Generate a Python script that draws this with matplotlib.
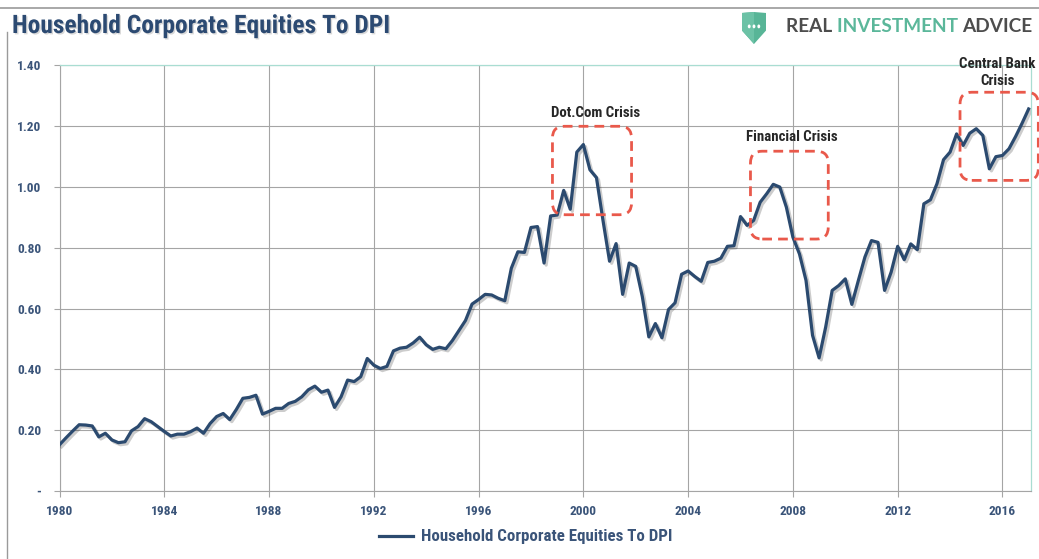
import numpy as np
import matplotlib.pyplot as plt
import matplotlib.patheffects as pe
from matplotlib import font_manager
from matplotlib.patches import FancyBboxPatch, Polygon, Circle
from matplotlib.lines import Line2D

# Datos trimestrales (1980 T1 - 2017 T1)
inicio = 1980
valores = [
    0.152, 0.175, 0.197, 0.218, 0.217, 0.214, 0.178, 0.190,   # 1980-81
    0.168, 0.159, 0.162, 0.198, 0.212, 0.238, 0.228, 0.212,   # 1982-83
    0.196, 0.181, 0.187, 0.187, 0.195, 0.207, 0.190, 0.222,   # 1984-85
    0.245, 0.255, 0.235, 0.268, 0.305, 0.308, 0.315, 0.253,   # 1986-87
    0.262, 0.272, 0.272, 0.288, 0.295, 0.310, 0.333, 0.345,   # 1988-89
    0.325, 0.332, 0.275, 0.310, 0.365, 0.360, 0.376, 0.436,   # 1990-91
    0.414, 0.403, 0.410, 0.461, 0.470, 0.473, 0.487, 0.506,   # 1992-93
    0.481, 0.466, 0.473, 0.468, 0.495, 0.528, 0.561, 0.615,   # 1994-95
    0.630, 0.647, 0.645, 0.634, 0.626, 0.733, 0.787, 0.785,   # 1996-97
    0.867, 0.870, 0.750, 0.905, 0.908, 0.989, 0.927, 1.115,   # 1998-99
    1.140, 1.057, 1.031, 0.890, 0.756, 0.814, 0.647, 0.750,   # 2000-01
    0.739, 0.640, 0.507, 0.551, 0.504, 0.597, 0.619, 0.713,   # 2002-03
    0.724, 0.706, 0.690, 0.752, 0.756, 0.766, 0.805, 0.807,   # 2004-05
    0.903, 0.874, 0.890, 0.950, 0.978, 1.009, 1.000, 0.934,   # 2006-07
    0.835, 0.780, 0.693, 0.512, 0.438, 0.539, 0.660, 0.676,   # 2008-09
    0.698, 0.614, 0.693, 0.770, 0.824, 0.818, 0.660, 0.720,   # 2010-11
    0.805, 0.761, 0.813, 0.794, 0.945, 0.958, 1.011, 1.090,   # 2012-13
    1.115, 1.175, 1.137, 1.177, 1.192, 1.170, 1.060, 1.100,   # 2014-15
    1.104, 1.126, 1.166, 1.210, 1.257,                        # 2016-17
]
anios = inicio + np.arange(len(valores)) * 0.25

ticks_x = list(range(1980, 2017, 4))
ticks_y = [0, 0.2, 0.4, 0.6, 0.8, 1.0, 1.2, 1.4]
etiquetas_y = ['-', '0.20', '0.40', '0.60', '0.80', '1.00', '1.20', '1.40']

# Recuadros de las crisis: (x0, x1, y0, y1) y su texto
crisis_texto = ['Dot.Com Crisis', 'Financial Crisis', 'Central Bank\nCrisis']
crisis_tx = [2000.48, 2007.96, 2015.81]
crisis_ty = [1.245, 1.165, 1.377]
caja_x0 = [1998.82, 2006.38, 2014.38]
caja_x1 = [2001.84, 2009.35, 2017.37]
caja_y0 = [0.909, 0.829, 1.022]
caja_y1 = [1.200, 1.118, 1.312]

azul = '#2b4a6f'
texto_azul = '#3a5479'
gris = '#a5a5a5'
verde = '#a9ddd2'
rojo = '#e9594b'

# fuente estrecha parecida a Calibri, la primera que exista
instaladas = {f.name for f in font_manager.fontManager.ttflist}
candidatas = ['Liberation Sans Narrow', 'Roboto Condensed', 'Open Sans Condensed',
              'Noto Sans Condensed', 'Roboto', 'Lato', 'DejaVu Sans']
fuente = [c for c in candidatas if c in instaladas][0]
narrow = [fuente, 'DejaVu Sans']

fig = plt.figure(figsize=(10.39, 5.59), dpi=100)
fig.canvas.draw()
rend = fig.canvas.get_renderer()


def tamano_para(texto, ancho_px, peso='bold', familia=narrow):
    t = fig.text(0, 0, texto, fontsize=10, fontweight=peso, family=familia)
    w = t.get_window_extent(renderer=rend).width
    t.remove()
    return 10 * ancho_px / w


fs_ticks = min(tamano_para('1980', 27), 10)
fs_crisis = tamano_para('Dot.Com Crisis', 90)
fs_leyenda = tamano_para('Household Corporate Equities To DPI', 250)
fs_titulo = tamano_para('Household Corporate Equities To DPI', 378)

ax = fig.add_axes([59.5 / 1039, 1 - 491 / 559, (1031 - 59.5) / 1039, (491 - 65.5) / 559])

ax.plot(anios, valores, color=azul, linewidth=2.3, solid_joinstyle='round', zorder=4,
        label='Household Corporate Equities To DPI',
        path_effects=[pe.SimpleLineShadow(offset=(1.5, -1.5), shadow_color='k', alpha=0.2),
                      pe.Normal()])

ax.set_xlim(1980, 2017.09)
ax.set_ylim(0, 1.4)
ax.set_xticks(ticks_x)
ax.set_xticklabels([str(t) for t in ticks_x])
ax.set_yticks(ticks_y)
ax.set_yticklabels(etiquetas_y)
for lab in ax.get_xticklabels() + ax.get_yticklabels():
    lab.set_family(narrow)
    lab.set_fontweight('bold')
    lab.set_fontsize(fs_ticks)
    lab.set_color(texto_azul)
ax.tick_params(axis='both', length=4, width=0.8, color=gris)
ax.tick_params(axis='y', pad=9)
ax.tick_params(axis='x', pad=6)
ax.grid(True, color=gris, linewidth=0.8)
ax.set_axisbelow(True)
for lado in ['left', 'bottom']:
    ax.spines[lado].set_color(gris)
    ax.spines[lado].set_linewidth(0.8)
for lado in ['top', 'right']:
    ax.spines[lado].set_color(verde)
    ax.spines[lado].set_linewidth(0.9)

# Recuadros discontinuos redondeados
aspecto = 303.6 / 26.19
for i in range(len(crisis_texto)):
    caja = FancyBboxPatch((caja_x0[i], caja_y0[i]), caja_x1[i] - caja_x0[i], caja_y1[i] - caja_y0[i],
                          boxstyle='round,pad=0,rounding_size=0.45',
                          mutation_aspect=1 / aspecto, fill=False, edgecolor=rojo,
                          linewidth=2.0, linestyle=(0, (3.5, 2.2)), clip_on=False, zorder=5)
    ax.add_patch(caja)
    ax.text(crisis_tx[i], crisis_ty[i], crisis_texto[i], ha='center', va='center',
            fontsize=fs_crisis, fontweight='bold', family=narrow, color='#262626',
            linespacing=1.25, clip_on=False, zorder=6)

leg = fig.legend(loc='center', bbox_to_anchor=(526 / 1039, 1 - 537 / 559), frameon=False,
                 handlelength=2.0, handletextpad=0.5,
                 prop={'family': narrow, 'weight': 'bold', 'size': fs_leyenda})
for t in leg.get_texts():
    t.set_color(texto_azul)
for h in leg.legend_handles:
    h.set_path_effects([pe.Normal()])

# Titulo
fig.text(12 / 1039, 1 - 26 / 559, 'Household Corporate Equities To DPI', ha='left', va='center',
         fontsize=fs_titulo, fontweight='bold', family=narrow, color='#2c4a72',
         path_effects=[pe.withSimplePatchShadow(offset=(1, -1), shadow_rgbFace='gray', alpha=0.3)])

# Marco exterior de la captura
fig.add_artist(Line2D([0, 1], [1 - 8 / 559, 1 - 8 / 559], color='#9a9a9a', linewidth=1.2))
fig.add_artist(Line2D([7 / 1039, 7 / 1039], [0, 1 - 32 / 559], color='#9a9a9a', linewidth=1.0))

# Logo
ax_logo = fig.add_axes([742 / 1039, 1 - 44 / 559, 24 / 1039, 32 / 559])
ax_logo.set_xlim(0, 1)
ax_logo.set_ylim(0, 1)
ax_logo.axis('off')
escudo = [(0, 0.97), (0.5, 1.0), (1, 0.97), (1, 0.42), (0.5, 0.0), (0, 0.42)]
ax_logo.add_patch(Polygon(escudo, closed=True, facecolor='#58b597', edgecolor='none'))
ax_logo.add_patch(Polygon([(0, 0.97), (0.5, 1.0), (0.5, 0.0), (0, 0.42)], closed=True,
                          facecolor='#6cc2a6', edgecolor='none'))
for cx in [0.3, 0.5, 0.7]:
    ax_logo.add_patch(Circle((cx, 0.55), 0.06, facecolor='white', edgecolor='none'))

familia_logo = ['Lato', 'DejaVu Sans']
fs_logo = tamano_para('REAL INVESTMENT ADVICE', 246, peso='bold', familia=familia_logo)
x_px = 786
for palabra, col in [('REAL ', '#4d4d4d'), ('INVESTMENT ', '#5bb79a'), ('ADVICE', '#4d4d4d')]:
    t = fig.text(x_px / 1039, 1 - 27 / 559, palabra, ha='left', va='center', fontsize=fs_logo,
                 fontweight='bold', family=familia_logo, color=col)
    x_px += t.get_window_extent(renderer=rend).width

fig.savefig('out.png', dpi=100)
